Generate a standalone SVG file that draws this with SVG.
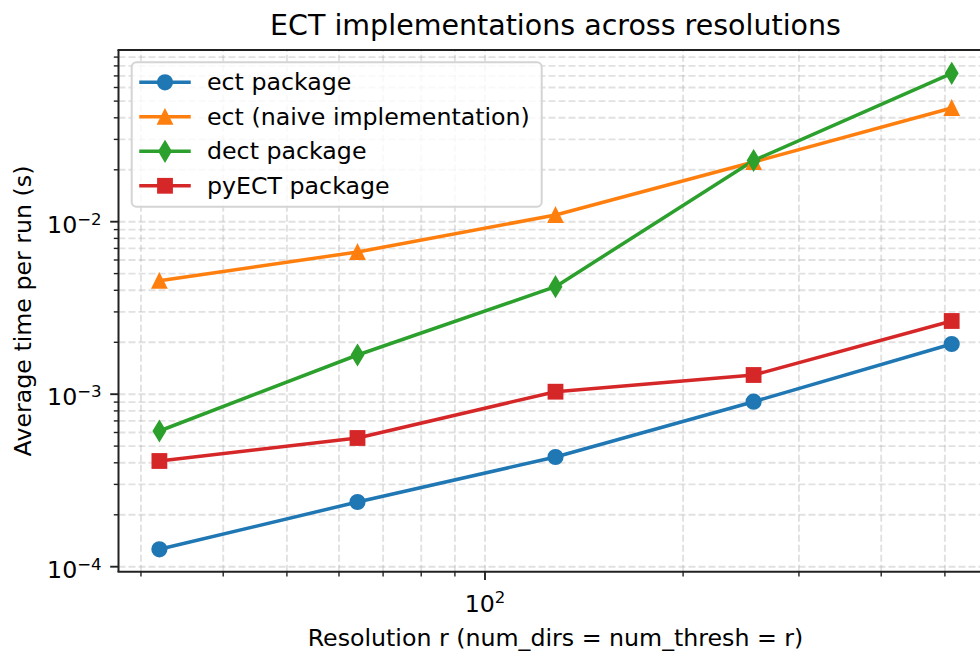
<svg xmlns="http://www.w3.org/2000/svg" xmlns:xlink="http://www.w3.org/1999/xlink" width="980" height="651" viewBox="0 0 980 651">
<style>
text{font-family:"DejaVu Sans","Liberation Sans",sans-serif;fill:#000}
.grid line{stroke:#b0b0b0;stroke-opacity:0.38;stroke-width:1.9;stroke-dasharray:7 3}
.spine{stroke:#222;stroke-width:2;fill:none}
.maj{stroke:#222;stroke-width:1.9}
.min{stroke:#222;stroke-width:1.4}
.series{fill:none;stroke-width:3.5;stroke-linejoin:round}
.blue{stroke:#1f77b4;fill:#1f77b4}
.orange{stroke:#ff7f0e;fill:#ff7f0e}
.green{stroke:#2ca02c;fill:#2ca02c}
.red{stroke:#d62728;fill:#d62728}
.mk{stroke-width:1.6;stroke-linejoin:miter}
.tick{font-size:23.7px}
.sup{font-size:16.6px}
</style>
<defs>
<circle id="m-o" r="7.3"/>
<path id="m-tri" d="M0,-7.1 L-7.1,7.1 L7.1,7.1 Z"/>
<path id="m-d" d="M0,-10.05 L6.03,0 L0,10.05 L-6.03,0 Z"/>
<rect id="m-s" x="-7.1" y="-7.1" width="14.2" height="14.2"/>
<clipPath id="ax"><rect x="118.5" y="50" width="873" height="521.7"/></clipPath>
</defs>
<rect width="980" height="651" fill="#fff"/>

<g id="grid" class="grid" clip-path="url(#ax)">
<line x1="118.5" y1="566.7" x2="991" y2="566.7"/>
<line x1="118.5" y1="514.8" x2="991" y2="514.8"/>
<line x1="118.5" y1="484.4" x2="991" y2="484.4"/>
<line x1="118.5" y1="462.8" x2="991" y2="462.8"/>
<line x1="118.5" y1="446.1" x2="991" y2="446.1"/>
<line x1="118.5" y1="432.5" x2="991" y2="432.5"/>
<line x1="118.5" y1="420.9" x2="991" y2="420.9"/>
<line x1="118.5" y1="410.9" x2="991" y2="410.9"/>
<line x1="118.5" y1="402.1" x2="991" y2="402.1"/>
<line x1="118.5" y1="394.2" x2="991" y2="394.2"/>
<line x1="118.5" y1="342.3" x2="991" y2="342.3"/>
<line x1="118.5" y1="311.9" x2="991" y2="311.9"/>
<line x1="118.5" y1="290.3" x2="991" y2="290.3"/>
<line x1="118.5" y1="273.6" x2="991" y2="273.6"/>
<line x1="118.5" y1="260.0" x2="991" y2="260.0"/>
<line x1="118.5" y1="248.4" x2="991" y2="248.4"/>
<line x1="118.5" y1="238.4" x2="991" y2="238.4"/>
<line x1="118.5" y1="229.6" x2="991" y2="229.6"/>
<line x1="118.5" y1="221.7" x2="991" y2="221.7"/>
<line x1="118.5" y1="169.8" x2="991" y2="169.8"/>
<line x1="118.5" y1="139.4" x2="991" y2="139.4"/>
<line x1="118.5" y1="117.8" x2="991" y2="117.8"/>
<line x1="118.5" y1="101.1" x2="991" y2="101.1"/>
<line x1="118.5" y1="87.5" x2="991" y2="87.5"/>
<line x1="118.5" y1="75.9" x2="991" y2="75.9"/>
<line x1="118.5" y1="65.9" x2="991" y2="65.9"/>
<line x1="118.5" y1="57.1" x2="991" y2="57.1"/>
<line x1="140.95" y1="571.7" x2="140.95" y2="50"/>
<line x1="223.2" y1="571.7" x2="223.2" y2="50"/>
<line x1="286.9" y1="571.7" x2="286.9" y2="50"/>
<line x1="339.0" y1="571.7" x2="339.0" y2="50"/>
<line x1="383.1" y1="571.7" x2="383.1" y2="50"/>
<line x1="421.2" y1="571.7" x2="421.2" y2="50"/>
<line x1="454.9" y1="571.7" x2="454.9" y2="50"/>
<line x1="485" y1="571.7" x2="485" y2="50"/>
<line x1="683.1" y1="571.7" x2="683.1" y2="50"/>
<line x1="798.95" y1="571.7" x2="798.95" y2="50"/>
<line x1="881.2" y1="571.7" x2="881.2" y2="50"/>
<line x1="944.9" y1="571.7" x2="944.9" y2="50"/>
</g>

<g id="connectors">
<polyline id="line-ect" class="series blue" style="fill:none" points="159.4,549.3 357.5,502 555.5,457 753.6,401.7 951.7,344"/>
<polyline id="line-naive" class="series orange" style="fill:none" points="159.4,280.8 357.5,252 555.5,215 753.6,162 951.7,108"/>
<polyline id="line-dect" class="series green" style="fill:none" points="159.4,431 357.5,355 555.5,286.7 753.6,160.5 951.7,73.3"/>
<polyline id="line-pyect" class="series red" style="fill:none" points="159.4,461 357.5,438 555.5,391.7 753.6,375 951.7,321"/>
</g>

<g id="markers-ect" class="blue mk">
<use xlink:href="#m-o" x="159.4" y="549.3"/>
<use xlink:href="#m-o" x="357.5" y="502"/>
<use xlink:href="#m-o" x="555.5" y="457"/>
<use xlink:href="#m-o" x="753.6" y="401.7"/>
<use xlink:href="#m-o" x="951.7" y="344"/>
</g>
<g id="markers-naive" class="orange mk">
<use xlink:href="#m-tri" x="159.4" y="280.8"/>
<use xlink:href="#m-tri" x="357.5" y="252"/>
<use xlink:href="#m-tri" x="555.5" y="215"/>
<use xlink:href="#m-tri" x="753.6" y="162"/>
<use xlink:href="#m-tri" x="951.7" y="108"/>
</g>
<g id="markers-dect" class="green mk">
<use xlink:href="#m-d" x="159.4" y="431"/>
<use xlink:href="#m-d" x="357.5" y="355"/>
<use xlink:href="#m-d" x="555.5" y="286.7"/>
<use xlink:href="#m-d" x="753.6" y="160.5"/>
<use xlink:href="#m-d" x="951.7" y="73.3"/>
</g>
<g id="markers-pyect" class="red mk">
<use xlink:href="#m-s" x="159.4" y="461"/>
<use xlink:href="#m-s" x="357.5" y="438"/>
<use xlink:href="#m-s" x="555.5" y="391.7"/>
<use xlink:href="#m-s" x="753.6" y="375"/>
<use xlink:href="#m-s" x="951.7" y="321"/>
</g>

<g id="axes">
<line class="spine" x1="118.5" y1="50" x2="118.5" y2="571.7"/>
<line class="spine" x1="117.5" y1="571.7" x2="991" y2="571.7"/>
<line class="spine" x1="117.5" y1="50" x2="991" y2="50"/>
<g id="yticks">
<line class="maj" x1="118.5" y1="566.7" x2="110.2" y2="566.7"/>
<line class="maj" x1="118.5" y1="394.2" x2="110.2" y2="394.2"/>
<line class="maj" x1="118.5" y1="221.7" x2="110.2" y2="221.7"/>
<g class="min">
<line x1="118.5" y1="514.8" x2="113.8" y2="514.8"/>
<line x1="118.5" y1="484.4" x2="113.8" y2="484.4"/>
<line x1="118.5" y1="462.8" x2="113.8" y2="462.8"/>
<line x1="118.5" y1="446.1" x2="113.8" y2="446.1"/>
<line x1="118.5" y1="432.5" x2="113.8" y2="432.5"/>
<line x1="118.5" y1="420.9" x2="113.8" y2="420.9"/>
<line x1="118.5" y1="410.9" x2="113.8" y2="410.9"/>
<line x1="118.5" y1="402.1" x2="113.8" y2="402.1"/>
<line x1="118.5" y1="342.3" x2="113.8" y2="342.3"/>
<line x1="118.5" y1="311.9" x2="113.8" y2="311.9"/>
<line x1="118.5" y1="290.3" x2="113.8" y2="290.3"/>
<line x1="118.5" y1="273.6" x2="113.8" y2="273.6"/>
<line x1="118.5" y1="260.0" x2="113.8" y2="260.0"/>
<line x1="118.5" y1="248.4" x2="113.8" y2="248.4"/>
<line x1="118.5" y1="238.4" x2="113.8" y2="238.4"/>
<line x1="118.5" y1="229.6" x2="113.8" y2="229.6"/>
<line x1="118.5" y1="169.8" x2="113.8" y2="169.8"/>
<line x1="118.5" y1="139.4" x2="113.8" y2="139.4"/>
<line x1="118.5" y1="117.8" x2="113.8" y2="117.8"/>
<line x1="118.5" y1="101.1" x2="113.8" y2="101.1"/>
<line x1="118.5" y1="87.5" x2="113.8" y2="87.5"/>
<line x1="118.5" y1="75.9" x2="113.8" y2="75.9"/>
<line x1="118.5" y1="65.9" x2="113.8" y2="65.9"/>
<line x1="118.5" y1="57.1" x2="113.8" y2="57.1"/>
</g>
</g>
<g id="xticks">
<line class="maj" x1="485" y1="571.7" x2="485" y2="580"/>
<g class="min">
<line x1="140.95" y1="571.7" x2="140.95" y2="576.4"/>
<line x1="223.2" y1="571.7" x2="223.2" y2="576.4"/>
<line x1="286.9" y1="571.7" x2="286.9" y2="576.4"/>
<line x1="339.0" y1="571.7" x2="339.0" y2="576.4"/>
<line x1="383.1" y1="571.7" x2="383.1" y2="576.4"/>
<line x1="421.2" y1="571.7" x2="421.2" y2="576.4"/>
<line x1="454.9" y1="571.7" x2="454.9" y2="576.4"/>
<line x1="683.1" y1="571.7" x2="683.1" y2="576.4"/>
<line x1="798.95" y1="571.7" x2="798.95" y2="576.4"/>
<line x1="881.2" y1="571.7" x2="881.2" y2="576.4"/>
<line x1="944.9" y1="571.7" x2="944.9" y2="576.4"/>
</g>
</g>
<text class="tick" x="101.7" y="577.7" text-anchor="end">10<tspan class="sup" dy="-8">−4</tspan></text>
<text class="tick" x="101.7" y="405.2" text-anchor="end">10<tspan class="sup" dy="-8">−3</tspan></text>
<text class="tick" x="101.7" y="232.7" text-anchor="end">10<tspan class="sup" dy="-8">−2</tspan></text>
<text class="tick" x="485" y="611.7" text-anchor="middle">10<tspan class="sup" dy="-8.5">2</tspan></text>
<text x="555.5" y="646" text-anchor="middle" font-size="23.7">Resolution r (num_dirs = num_thresh = r)</text>
<text transform="translate(31,311) rotate(-90)" text-anchor="middle" font-size="23.7">Average time per run (s)</text>
<text x="555.5" y="35" text-anchor="middle" font-size="28.5">ECT implementations across resolutions</text>
</g>

<g id="legend">
<rect x="131.7" y="62.3" width="410" height="144.4" rx="4.7" fill="#fff" fill-opacity="0.8" stroke="#d4d4d4" stroke-width="2"/>
<g id="legend-ect">
<line x1="141" y1="82.3" x2="189" y2="82.3" class="blue" stroke-width="3.5" stroke-linecap="square"/>
<use xlink:href="#m-o" x="165" y="82.3" class="blue mk"/>
<text x="207" y="90" font-size="23.7">ect package</text>
</g>
<g id="legend-naive">
<line x1="141" y1="116.8" x2="189" y2="116.8" class="orange" stroke-width="3.5" stroke-linecap="square"/>
<use xlink:href="#m-tri" x="165" y="116.8" class="orange mk"/>
<text x="207" y="124.5" font-size="23.7">ect (naive implementation)</text>
</g>
<g id="legend-dect">
<line x1="141" y1="151.3" x2="189" y2="151.3" class="green" stroke-width="3.5" stroke-linecap="square"/>
<use xlink:href="#m-d" x="165" y="151.3" class="green mk"/>
<text x="207" y="159" font-size="23.7">dect package</text>
</g>
<g id="legend-pyect">
<line x1="141" y1="185.8" x2="189" y2="185.8" class="red" stroke-width="3.5" stroke-linecap="square"/>
<use xlink:href="#m-s" x="165" y="185.8" class="red mk"/>
<text x="207" y="193.5" font-size="23.7">pyECT package</text>
</g>
</g>
</svg>
